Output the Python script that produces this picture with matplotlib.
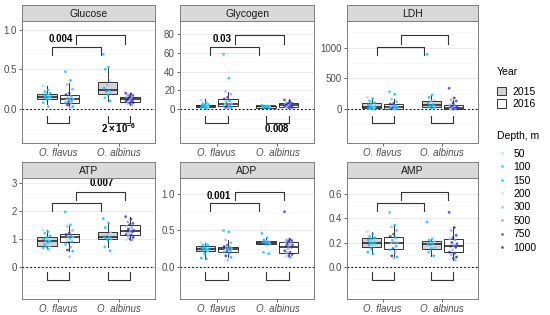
import matplotlib
matplotlib.use("Agg")
import matplotlib.pyplot as plt
import matplotlib.transforms as mtransforms
from matplotlib.patches import Patch
from matplotlib.lines import Line2D
import numpy as np

plt.rcParams["font.family"] = ["Liberation Sans", "DejaVu Sans"]
plt.rcParams["mathtext.fontset"] = "custom"
plt.rcParams["mathtext.bf"] = "Liberation Sans:bold"
plt.rcParams["mathtext.rm"] = "Liberation Sans"

species = ["O. flavus", "O. albinus"]
years = ["2015", "2016"]
depth_levels = [50, 100, 150, 200, 300, 500, 750, 1000]
depth_colors = ["#8fe3ff", "#1ec0f5", "#00bbff", "#c6d6ff",
                "#9db0ff", "#7f9cff", "#3a3ab8", "#2a2a9e"]

# depth of every fish, per group (flavus 2015, flavus 2016, albinus 2015, albinus 2016)
depth_f15 = [50, 100, 100, 150, 150, 150, 50, 100, 150, 100, 150, 50, 100, 150, 100]
depth_f16 = [100, 150, 300, 500, 750, 1000, 150, 100, 300, 500, 200, 150, 750, 100, 500, 1000, 150, 300]
depth_a15 = [150, 100, 150, 200, 300, 150, 100, 150, 300, 150, 100, 150]
depth_a16 = [750, 1000, 500, 750, 1000, 300, 500, 1000, 750, 500, 1000, 750, 300, 1000, 750, 500, 1000, 750, 200, 500]

# measured values per group
glucose_f15 = [0.29, 0.24, 0.22, 0.2, 0.19, 0.18, 0.17, 0.16, 0.155, 0.15, 0.14, 0.13, 0.12, 0.08, 0.03]
glucose_f16 = [0.47, 0.36, 0.31, 0.25, 0.2, 0.18, 0.16, 0.14, 0.13, 0.12, 0.11, 0.1, 0.09, 0.08, 0.07, 0.05, 0.03, 0.02]
glucose_a15 = [0.69, 0.53, 0.5, 0.36, 0.3, 0.26, 0.23, 0.22, 0.2, 0.18, 0.14, 0.1]
glucose_a16 = [0.2, 0.19, 0.18, 0.17, 0.16, 0.15, 0.14, 0.13, 0.13, 0.12, 0.12, 0.11, 0.1, 0.1, 0.09, 0.08, 0.08, 0.07, 0.06, 0.05]

glycogen_f15 = [10, 7, 6, 5, 4.5, 4, 3.8, 3.5, 3.2, 3, 2.8, 2.5, 2, 1.5, 1]
glycogen_f16 = [58.5, 33, 19, 16, 13, 11, 9, 8, 6, 5.5, 5, 4, 3.5, 3, 2.5, 2, 1.5, 1]
glycogen_a15 = [4, 3.6, 3.4, 3.2, 3, 2.9, 2.8, 2.6, 2.2, 2, 1.8, 1.5]
glycogen_a16 = [10, 8.5, 7, 6.5, 6, 5.5, 5, 4.8, 4.5, 4.3, 4.2, 4, 3.5, 3, 2.8, 2.5, 2, 1.5, 1, 0.5]

ldh_f15 = [190, 170, 130, 100, 90, 70, 50, 40, 35, 30, 20, 15, 10, 5, 0]
ldh_f16 = [282, 240, 160, 120, 90, 80, 60, 50, 40, 35, 30, 20, 15, 10, 5, 5, 0, 0]
ldh_a15 = [890, 230, 190, 150, 130, 100, 70, 60, 40, 35, 30, 10]
ldh_a16 = [337, 180, 150, 130, 100, 70, 60, 50, 40, 30, 25, 20, 15, 10, 8, 5, 3, 0, 0, 0]

atp_f15 = [1.31, 1.25, 1.2, 1.1, 1.05, 1.0, 0.95, 0.92, 0.9, 0.85, 0.8, 0.75, 0.72, 0.68, 0.63]
atp_f16 = [1.96, 1.5, 1.45, 1.3, 1.2, 1.15, 1.1, 1.07, 1.05, 1.0, 0.95, 0.9, 0.87, 0.8, 0.7, 0.6, 0.56, 0.36]
atp_a15 = [1.72, 1.57, 1.4, 1.25, 1.15, 1.08, 1.05, 1.02, 1.0, 0.95, 0.71, 0.57]
atp_a16 = [1.79, 1.7, 1.6, 1.55, 1.5, 1.45, 1.4, 1.35, 1.3, 1.28, 1.27, 1.25, 1.2, 1.15, 1.13, 1.1, 1.05, 1.0, 0.97, 0.95]

adp_f15 = [0.33, 0.31, 0.3, 0.29, 0.27, 0.26, 0.25, 0.245, 0.24, 0.23, 0.22, 0.21, 0.18, 0.12, 0.11]
adp_f16 = [0.5, 0.48, 0.37, 0.33, 0.3, 0.28, 0.27, 0.26, 0.25, 0.24, 0.23, 0.22, 0.21, 0.2, 0.18, 0.15, 0.13, 0.09]
adp_a15 = [0.46, 0.4, 0.37, 0.36, 0.35, 0.34, 0.33, 0.33, 0.32, 0.31, 0.2, 0.18]
adp_a16 = [0.76, 0.38, 0.37, 0.36, 0.35, 0.34, 0.33, 0.31, 0.3, 0.29, 0.28, 0.27, 0.25, 0.22, 0.2, 0.19, 0.17, 0.15, 0.14, 0.13]

amp_f15 = [0.29, 0.27, 0.25, 0.24, 0.23, 0.22, 0.21, 0.2, 0.2, 0.19, 0.18, 0.17, 0.15, 0.12, 0.105]
amp_f16 = [0.45, 0.345, 0.33, 0.3, 0.27, 0.25, 0.24, 0.22, 0.2, 0.2, 0.19, 0.17, 0.15, 0.14, 0.12, 0.09, 0.08, 0.07]
amp_a15 = [0.37, 0.23, 0.22, 0.21, 0.2, 0.19, 0.19, 0.18, 0.16, 0.15, 0.12, 0.09]
amp_a16 = [0.45, 0.325, 0.3, 0.26, 0.24, 0.23, 0.22, 0.2, 0.19, 0.18, 0.17, 0.16, 0.14, 0.12, 0.11, 0.1, 0.08, 0.07, 0.06, 0.055]

# box statistics: [whisker low, q1, median, q3, whisker high]
glucose_box = [[0.06, 0.127, 0.156, 0.19, 0.29], [0.02, 0.072, 0.127, 0.177, 0.325],
               [0.10, 0.185, 0.24, 0.345, 0.535], [0.05, 0.085, 0.123, 0.156, 0.20]]
glycogen_box = [[1, 2.5, 3.5, 4.6, 10.4], [1, 3.2, 5.3, 11, 18.5],
                [1.5, 1.8, 2.9, 3.5, 4], [0.5, 2.5, 4.3, 6.1, 10.4]]
ldh_box = [[0, 11, 37, 93, 180], [0, 5, 37, 82, 158],
           [10, 33, 65, 130, 228], [0, 0, 21, 60, 147]]
atp_box = [[0.63, 0.75, 0.92, 1.07, 1.31], [0.56, 0.87, 1.05, 1.16, 1.45],
           [0.71, 0.99, 1.05, 1.25, 1.57], [0.95, 1.13, 1.27, 1.49, 1.79]]
adp_box = [[0.11, 0.217, 0.245, 0.286, 0.33], [0.13, 0.207, 0.24, 0.276, 0.37],
           [0.31, 0.313, 0.33, 0.36, 0.40], [0.13, 0.185, 0.276, 0.337, 0.38]]
amp_box = [[0.105, 0.166, 0.20, 0.235, 0.29], [0.07, 0.144, 0.20, 0.244, 0.345],
           [0.09, 0.15, 0.19, 0.21, 0.23], [0.055, 0.12, 0.175, 0.226, 0.325]]

panels = [
    ("Glucose", [glucose_f15, glucose_f16, glucose_a15, glucose_a16], glucose_box,
     (-0.43, 1.11), [0, 0.5, 1.0], ["0.0", "0.5", "1.0"], 0.25, "0.004", "2\\times10^{-6}"),
    ("Glycogen", [glycogen_f15, glycogen_f16, glycogen_a15, glycogen_a16], glycogen_box,
     (-36, 94), [0, 20, 40, 60, 80], ["0", "20", "40", "60", "80"], 10, "0.03", "0.008"),
    ("LDH", [ldh_f15, ldh_f16, ldh_a15, ldh_a16], ldh_box,
     (-553, 1433), [0, 500, 1000], ["0", "500", "1000"], 250, None, None),
    ("ATP", [atp_f15, atp_f16, atp_a15, atp_a16], atp_box,
     (-1.15, 3.17), [0, 1, 2, 3], ["0", "1", "2", "3"], 0.5, "0.007", None),
    ("ADP", [adp_f15, adp_f16, adp_a15, adp_a16], adp_box,
     (-0.446, 1.225), [0, 0.5, 1.0], ["0.0", "0.5", "1.0"], 0.25, "0.001", None),
    ("AMP", [amp_f15, amp_f16, amp_a15, amp_a16], amp_box,
     (-0.268, 0.735), [0, 0.2, 0.4, 0.6], ["0.0", "0.2", "0.4", "0.6"], 0.1, None, None),
]

depths = [depth_f15, depth_f16, depth_a15, depth_a16]
positions = [0.815, 1.185, 1.815, 2.185]
box_fills = ["#d4d4d4", "white", "#d4d4d4", "white"]

W, H = 550, 315
fig = plt.figure(figsize=(5.5, 3.15), dpi=100)

col_left = [22, 180, 347]
col_width = [133, 134, 131]
row_top = [21, 178]
row_bottom = [143, 299]
strip_h = 16

tick_col = "#4d4d4d"
line_col = "#333333"

for k, (name, values, box, ylim, yt, ytl, minor_step, top_lab, bot_lab) in enumerate(panels):
    r, c = divmod(k, 3)
    x0, w = col_left[c], col_width[c]
    y_top, y_bot = row_top[r], row_bottom[r]
    ax = fig.add_axes([x0 / W, 1 - y_bot / H, w / W, (y_bot - y_top) / H])
    sax = fig.add_axes([x0 / W, 1 - y_top / H, w / W, strip_h / H])

    # strip
    sax.set_facecolor("#d9d9d9")
    sax.set_xticks([])
    sax.set_yticks([])
    for s in sax.spines.values():
        s.set_color("#7f7f7f")
        s.set_linewidth(0.7)
    sax.text(0.5, 0.45, name, ha="center", va="center", fontsize=7.5,
             color="#1a1a1a", transform=sax.transAxes)

    ax.axhline(0, color="black", linestyle=(0, (1.5, 2)), linewidth=0.8, zorder=1)

    stats = [dict(whislo=b[0], q1=b[1], med=b[2], q3=b[3], whishi=b[4], fliers=[]) for b in box]
    bp = ax.bxp(stats, positions=positions, widths=0.32, patch_artist=True,
                showfliers=False, showcaps=False, manage_ticks=False,
                boxprops=dict(edgecolor=line_col, linewidth=0.7),
                whiskerprops=dict(color=line_col, linewidth=0.7),
                medianprops=dict(color="#1a1a1a", linewidth=1.1))
    for patch, fc in zip(bp["boxes"], box_fills):
        patch.set_facecolor(fc)
        patch.set_zorder(2)

    # jittered points, deterministic spread
    for g in range(4):
        vals = values[g]
        n = len(vals)
        offs = ((np.arange(n) * 0.618034) % 1 - 0.5) * 0.14
        cols = [depth_colors[depth_levels.index(d)] for d in depths[g][:n]]
        ax.scatter(positions[g] + offs, vals, s=4, c=cols, alpha=0.8,
                   linewidths=0, zorder=3)

    ax.set_xlim(0.4, 2.6)
    ax.set_ylim(*ylim)
    minors = np.arange(np.ceil(ylim[0] / minor_step) * minor_step, ylim[1], minor_step)
    minors = [m for m in minors if not any(abs(m - t) < minor_step * 0.01 for t in yt)]
    ax.set_yticks(yt)
    ax.set_yticklabels(ytl)
    ax.set_yticks(minors, minor=True)
    ax.set_xticks([1, 2])
    ax.set_xticklabels(species, fontstyle="italic")
    ax.tick_params(axis="both", which="major", labelsize=7, colors=tick_col,
                   length=2.2, width=0.6, pad=1.5)
    ax.tick_params(axis="y", which="minor", length=0)
    ax.grid(True, axis="y", which="major", color="#e6e6e6", linewidth=0.6)
    ax.grid(True, axis="y", which="minor", color="#f2f2f2", linewidth=0.4)
    ax.set_axisbelow(True)
    for s in ax.spines.values():
        s.set_color("#7f7f7f")
        s.set_linewidth(0.7)

    # significance brackets
    tr = mtransforms.blended_transform_factory(ax.transData, ax.transAxes)
    bk = dict(color=line_col, linewidth=0.8, transform=tr, clip_on=False)
    ax.plot([1.30, 1.30, 2.10, 2.10], [0.815, 0.885, 0.885, 0.815], **bk)
    ax.plot([0.90, 0.90, 1.70, 1.70], [0.725, 0.79, 0.79, 0.725], **bk)
    ax.plot([0.815, 0.815, 1.185, 1.185], [0.22, 0.16, 0.16, 0.22], **bk)
    ax.plot([1.815, 1.815, 2.185, 2.185], [0.22, 0.16, 0.16, 0.22], **bk)

    if top_lab is not None:
        if name == "ATP":
            ax.text(1.72, 0.955, top_lab, transform=tr, ha="center", va="center",
                    fontsize=7, fontweight="bold")
        else:
            ax.text(1.24, 0.852, top_lab, transform=tr, ha="right", va="center",
                    fontsize=7, fontweight="bold")
    if bot_lab is not None:
        ax.text(2.0, 0.12, "$\\mathbf{" + bot_lab + "}$", transform=tr,
                ha="center", va="center", fontsize=7)

# legends
year_handles = [Patch(facecolor="#d4d4d4", edgecolor=line_col, linewidth=0.7),
                Patch(facecolor="white", edgecolor=line_col, linewidth=0.7)]
leg1 = fig.legend(year_handles, years, title="Year", loc="upper left",
                  bbox_to_anchor=(497 / W, 1 - 67 / H), frameon=False,
                  fontsize=7.5, title_fontsize=7.5, handlelength=0.9,
                  handleheight=0.9, handletextpad=0.6, labelspacing=0.25,
                  borderaxespad=0, borderpad=0)
leg1._legend_box.align = "left"
leg1._legend_box.sep = 7

depth_handles = [Line2D([], [], marker="o", linestyle="", markersize=1.9,
                        markerfacecolor=col, markeredgewidth=0, alpha=0.85)
                 for col in depth_colors]
leg2 = fig.legend(depth_handles, [str(d) for d in depth_levels], title="Depth, m",
                  loc="upper left", bbox_to_anchor=(497 / W, 1 - 131 / H),
                  frameon=False, fontsize=7.5, title_fontsize=7.5,
                  handlelength=1.0, handletextpad=0.6, labelspacing=0.33,
                  borderaxespad=0, borderpad=0)
leg2._legend_box.align = "left"
leg2._legend_box.sep = 5.5

fig.savefig("out.png", dpi=100)
